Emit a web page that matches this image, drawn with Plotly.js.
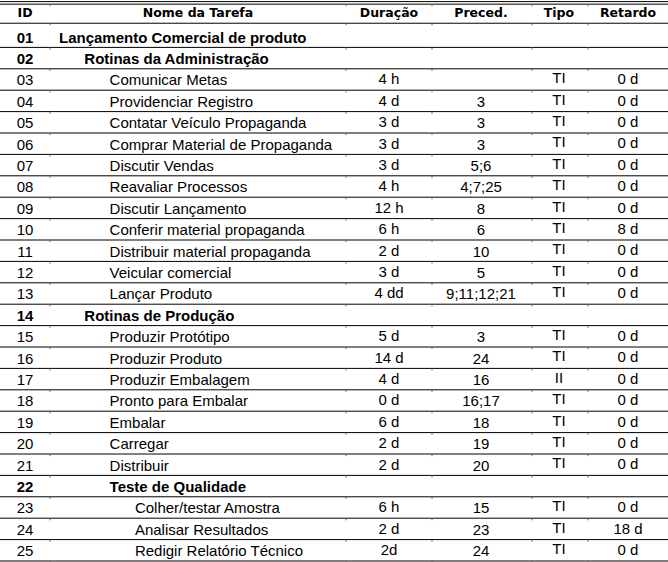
<!DOCTYPE html>
<html>
<head>
<meta charset="utf-8">
<script src="https://cdn.plot.ly/plotly-3.0.1.min.js"></script>
<style>html,body{margin:0;padding:0;background:#fff;}#chart{width:668px;height:562px;}</style>
</head>
<body>
<div id="chart"></div>
<script>
// ---- data ----
const headers = ['ID', 'Nome da Tarefa', 'Duração', 'Preced.', 'Tipo', 'Retardo'];
const ids = ['01','02','03','04','05','06','07','08','09','10','11','12','13','14','15','16','17','18','19','20','21','22','23','24','25'];
const names = ['Lançamento Comercial de produto','Rotinas da Administração','Comunicar Metas','Providenciar Registro','Contatar Veículo Propaganda','Comprar Material de Propaganda','Discutir Vendas','Reavaliar Processos','Discutir Lançamento','Conferir material propaganda','Distribuir material propaganda','Veicular comercial','Lançar Produto','Rotinas de Produção','Produzir Protótipo','Produzir Produto','Produzir Embalagem','Pronto para Embalar','Embalar','Carregar','Distribuir','Teste de Qualidade','Colher/testar Amostra','Analisar Resultados','Redigir Relatório Técnico'];
const levels = [0,1,2,2,2,2,2,2,2,2,2,2,2,1,2,2,2,2,2,2,2,2,3,3,3];
const summaryIds = ['01','02','14','22'];
const duracao = ['','','4 h','4 d','3 d','3 d','3 d','4 h','12 h','6 h','2 d','3 d','4 dd','','5 d','14 d','4 d','0 d','6 d','2 d','2 d','','6 h','2 d','2d'];
const preced = ['','','','3','3','3','5;6','4;7;25','8','6','10','5','9;11;12;21','','3','24','16','16;17','18','19','20','','15','23','24'];
const tipo = ['','','TI','TI','TI','TI','TI','TI','TI','TI','TI','TI','TI','','TI','TI','II','TI','TI','TI','TI','','TI','TI','TI'];
const retardo = ['','','0 d','0 d','0 d','0 d','0 d','0 d','0 d','8 d','0 d','0 d','0 d','','0 d','0 d','0 d','0 d','0 d','0 d','0 d','','0 d','18 d','0 d'];

// ---- layout constants ----
const colCenters = [25, 198, 389, 481, 559, 628];
const colBounds = [50, 346, 432, 532, 588];
const NAME_X0 = 59, INDENT = 25.3;
const HEADER_Y = -0.06, HEADER_LINE = 0.37, TOP_LINES = [-0.64, -0.52];
const Y_RANGE = [25.547, -0.715];
const BODY_SHIFT = 0.1;
const colYOff = [0, 0, -0.05, 0, -0.1, -0.06];
const bodyFont = '"Liberation Sans", Arial, sans-serif';
const headFont = '"DejaVu Sans", Verdana, sans-serif';

const rows = ids.map((d, i) => i + 1);
const isBold = ids.map(d => summaryIds.includes(d));
const fmt = (arr) => arr.map((t, i) => isBold[i] && t ? '<b>' + t + '</b>' : t);

function colTrace(texts, c) {
  return {
    type: 'scatter', mode: 'text', x: rows.map(() => colCenters[c]),
    y: rows.map(r => r + BODY_SHIFT + colYOff[c]), text: fmt(texts), textposition: 'middle center',
    textfont: {family: bodyFont, size: 15, color: '#000'}, hoverinfo: 'skip', cliponaxis: false, showlegend: false
  };
}

const traces = [
  {type: 'scatter', mode: 'text', x: colCenters, y: colCenters.map(() => HEADER_Y),
   text: headers.map(h => '<b>' + h + '</b>'), textposition: 'middle center',
   textfont: {family: headFont, size: 12.5, color: '#000'}, hoverinfo: 'skip', cliponaxis: false, showlegend: false},
  colTrace(ids, 0),
  {type: 'scatter', mode: 'text', x: levels.map(l => NAME_X0 + l * INDENT), y: rows.map(r => r + BODY_SHIFT),
   text: fmt(names), textposition: 'middle right',
   textfont: {family: bodyFont, size: 15, color: '#000'}, hoverinfo: 'skip', cliponaxis: false, showlegend: false},
  colTrace(duracao, 2),
  colTrace(preced, 3),
  colTrace(tipo, 4),
  colTrace(retardo, 5)
];

const shapes = [];
const hline = (y) => ({type: 'line', xref: 'paper', yref: 'y', x0: 0, x1: 1, y0: y, y1: y, line: {color: '#000', width: 1}});
TOP_LINES.forEach(y => shapes.push(hline(y)));
shapes.push(hline(HEADER_LINE));
rows.forEach(r => shapes.push(hline(r + 0.5)));
// small column-separator ticks below each rule
[TOP_LINES[1], HEADER_LINE].concat(rows.map(r => r + 0.5)).forEach(y => {
  colBounds.forEach(x => shapes.push({type: 'line', xref: 'x', yref: 'y', x0: x, x1: x, y0: y, y1: y + 0.1,
    line: {color: '#666', width: 1}}));
});

const layout = {
  width: 668, height: 562, margin: {l: 0, r: 0, t: 0, b: 0},
  paper_bgcolor: '#fff', plot_bgcolor: '#fff',
  xaxis: {range: [0, 668], visible: false, fixedrange: true},
  yaxis: {range: Y_RANGE, visible: false, fixedrange: true},
  shapes: shapes, showlegend: false
};
Plotly.newPlot('chart', traces, layout, {displayModeBar: false, staticPlot: true});
</script>
</body>
</html>
